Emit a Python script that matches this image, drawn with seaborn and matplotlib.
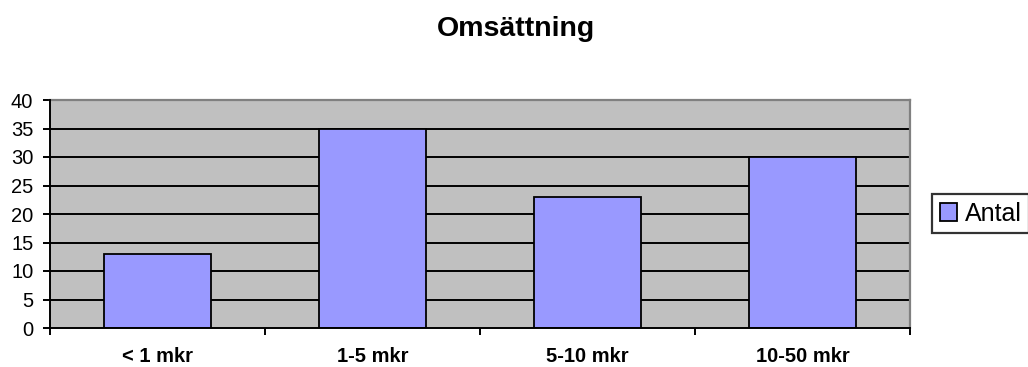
import matplotlib
matplotlib.use("Agg")
import matplotlib.pyplot as plt
import seaborn as sns
import pandas as pd
from matplotlib.patches import Patch

categories = ["< 1 mkr", "1-5 mkr", "5-10 mkr", "10-50 mkr"]
antal = [13, 35, 23, 30]
y_ticks = [0, 5, 10, 15, 20, 25, 30, 35, 40]

df = pd.DataFrame({"Omsättning": categories, "Antal": antal})

sns.set_theme(style="white")
plt.rcParams["font.family"] = ["Liberation Sans", "DejaVu Sans"]
plt.rcParams["text.color"] = "black"
plt.rcParams["xtick.color"] = "black"
plt.rcParams["ytick.color"] = "black"
plt.rcParams["xtick.labelcolor"] = "black"
plt.rcParams["ytick.labelcolor"] = "black"

fig = plt.figure(figsize=(10.28, 3.67), dpi=100)
ax = fig.add_axes([50 / 1028, 1 - 328 / 367, 860 / 1028, 228 / 367])
ax.set_facecolor("#C0C0C0")

sns.barplot(data=df, x="Omsättning", y="Antal", color="#9999FF",
            saturation=1, width=0.5, edgecolor="black", linewidth=1.3,
            ax=ax, zorder=3)

ax.set_ylim(0, 40)
ax.set_xlim(-0.5, len(categories) - 0.5)
ax.set_yticks(y_ticks)
ax.set_yticklabels([str(v) for v in y_ticks], fontsize=14.5)
for v in y_ticks[1:-1]:
    ax.axhline(v, color="black", linewidth=1.4, zorder=1)

# ticks at category boundaries, labels centred under each bar
ax.set_xticks([i - 0.5 for i in range(len(categories) + 1)])
ax.set_xticklabels([])
ax.set_xticks(range(len(categories)), minor=True)
ax.set_xticklabels(categories, minor=True, fontsize=14.5, fontweight="bold")
ax.tick_params(axis="x", which="minor", length=0, pad=14, labelcolor="black")
ax.tick_params(axis="x", which="major", length=5, width=1.4, color="black", direction="out")
ax.tick_params(axis="y", length=5, width=1.4, color="black", direction="out", pad=7)
ax.tick_params(axis="both", which="both", labelcolor="black")
ax.xaxis.set_ticks_position("bottom")
ax.yaxis.set_ticks_position("left")

for side in ["left", "bottom"]:
    ax.spines[side].set_color("black")
    ax.spines[side].set_linewidth(1.4)
for side in ["top", "right"]:
    ax.spines[side].set_color("#808080")
    ax.spines[side].set_linewidth(1.6)
ax.spines["left"].set_zorder(4)
ax.spines["bottom"].set_zorder(4)

ax.set_xlabel("")
ax.set_ylabel("")

fig.text(516 / 1028, 1 - 36 / 367, "Omsättning", ha="center", va="baseline",
         fontsize=20.5, fontweight="bold", color="black")

handle = Patch(facecolor="#9999FF", edgecolor="black", linewidth=1.3)
leg = fig.legend([handle], ["Antal"], loc="center left",
                 bbox_to_anchor=(932 / 1028, 1 - 214 / 367), fontsize=18,
                 frameon=True, fancybox=False, handlelength=0.7,
                 handleheight=0.7, handletextpad=0.3, borderpad=0.3,
                 borderaxespad=0)
leg.get_frame().set_edgecolor("black")
leg.get_frame().set_linewidth(1.6)
for t in leg.get_texts():
    t.set_color("black")

fig.savefig("out.png", dpi=100, facecolor="white")
